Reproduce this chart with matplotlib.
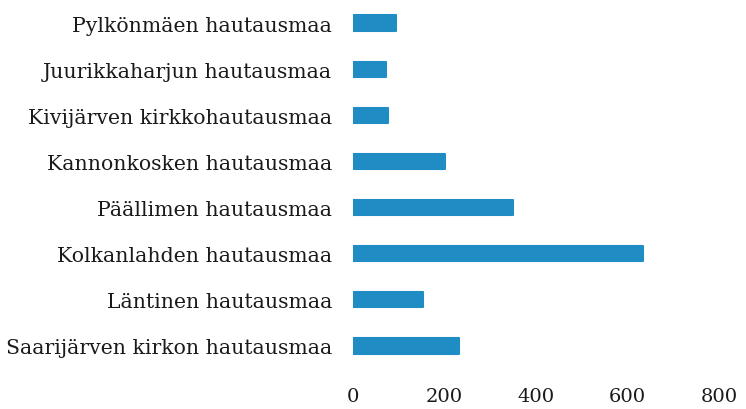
import matplotlib
matplotlib.use("Agg")
import matplotlib.pyplot as plt

# hautausmaat ylhäältä alas
names = [
    "Pylkönmäen hautausmaa",
    "Juurikkaharjun hautausmaa",
    "Kivijärven kirkkohautausmaa",
    "Kannonkosken hautausmaa",
    "Päällimen hautausmaa",
    "Kolkanlahden hautausmaa",
    "Läntinen hautausmaa",
    "Saarijärven kirkon hautausmaa",
]
values = [95, 72, 77, 201, 350, 634, 153, 232]
xticks = [0, 200, 400, 600, 800]

plt.rcParams["font.family"] = ["DejaVu Serif"]

fig = plt.figure(figsize=(7.46, 4.10), dpi=100)
ax = fig.add_axes([353 / 746, 1 - 370 / 410, (719 - 353) / 746, 369 / 410])

ypos = list(range(len(names)))
bars = ax.barh(ypos, values, height=0.33, color="#1f8cc4",
               edgecolor="#1f8cc4", linewidth=1.5)
for b in bars:
    b.set_joinstyle("round")
ax.set_ylim(len(names) - 0.5, -0.5)
ax.set_xlim(0, 800)
ax.set_yticks(ypos)
ax.set_yticklabels(names, fontsize=14.7, color="#1a1a1a")
ax.set_xticks(xticks)
ax.set_xticklabels([str(t) for t in xticks], fontsize=14, color="#1a1a1a")
ax.tick_params(axis="y", length=0, pad=15)
ax.tick_params(axis="x", length=0, pad=13)
for s in ax.spines.values():
    s.set_visible(False)

fig.savefig("out.png", dpi=100)
